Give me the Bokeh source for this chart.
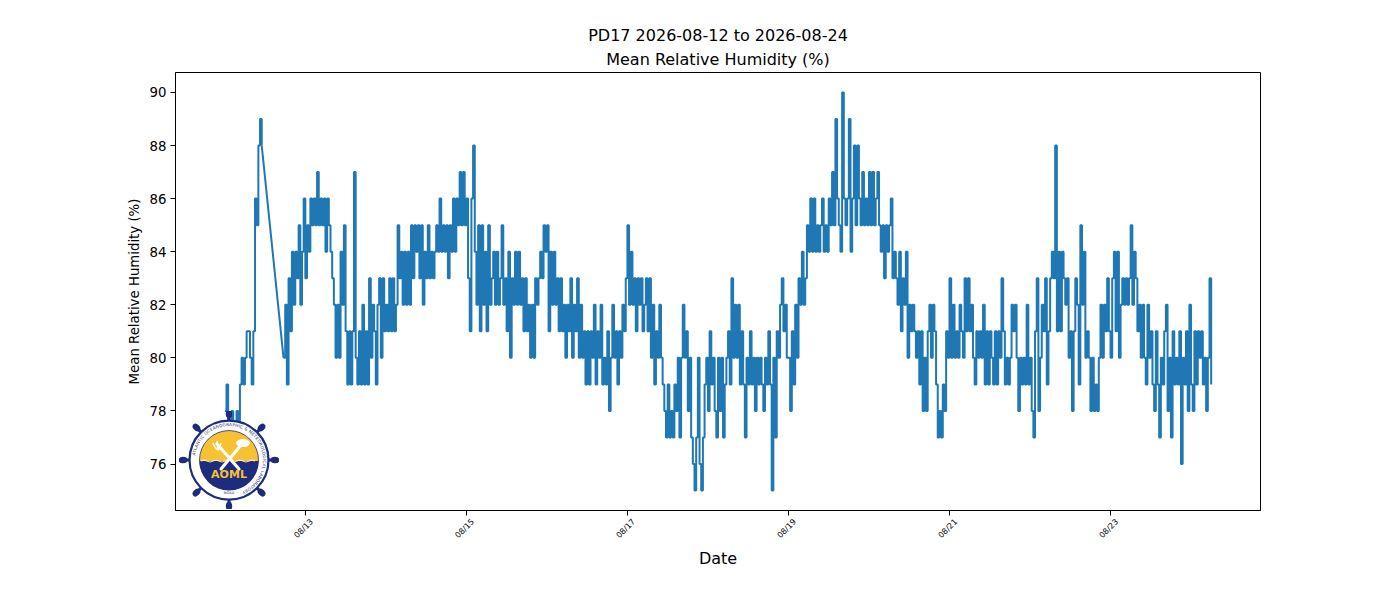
import math
import base64
import pandas as pd
from bokeh.plotting import figure
from bokeh.models import (DatetimeTickFormatter, FixedTicker, Range1d, Title,
                          SingleIntervalTicker, DatetimeAxis)
from bokeh.embed import file_html
from bokeh.resources import INLINE

# ---------------- data ----------------
station = "PD17"
date_from = "2026-08-12"
date_to = "2026-08-24"
variable = "Mean Relative Humidity (%)"
x_label = "Date"
series_start = "2026-08-12 00:00"
sample_step = "30min"
tick_dates = ["2026-08-13", "2026-08-15", "2026-08-17", "2026-08-19", "2026-08-21", "2026-08-23"]
tick_labels = ["08/13", "08/15", "08/17", "08/19", "08/21", "08/23"]

# half-hourly mean relative humidity (%), one list per day (None = no report)
rh_0812 = [78, 79, 77, 77, 78, 77, 77, 78, 77, 79, 80, 79, 80, 81, 81, 80, 79, 81, 86, 85,
           88, 89, 88, None, None, None, None, None, None, None, None, None, None, None, None,
           80, 82, 79, 83, 81, 84, 82, 84, 83, 85, 82, 84, 86]
rh_0813 = [83, 85, 84, 86, 85, 86, 85, 87, 85, 86, 85, 86, 84, 86, 85, 84, 83, 82, 80, 82,
           80, 84, 82, 85, 81, 79, 81, 79, 81, 87, 80, 79, 81, 79, 82, 79, 81, 79, 83, 80,
           82, 81, 79, 82, 83, 80, 83, 81]
rh_0814 = [82, 81, 83, 81, 83, 81, 82, 85, 83, 84, 82, 84, 82, 84, 82, 85, 83, 85, 84, 85,
           83, 85, 82, 84, 83, 85, 83, 84, 83, 84, 85, 84, 86, 84, 85, 84, 85, 83, 85, 84,
           86, 84, 86, 85, 87, 85, 87, 85]
rh_0815 = [86, 83, 81, 86, 88, 84, 82, 85, 81, 85, 82, 84, 81, 85, 82, 83, 84, 82, 84, 82,
           83, 85, 82, 83, 81, 84, 80, 83, 82, 84, 82, 84, 82, 83, 81, 83, 81, 82, 80, 82,
           80, 83, 82, 83, 84, 83, 85, 84]
rh_0816 = [85, 81, 84, 82, 84, 82, 83, 81, 83, 81, 82, 80, 82, 81, 83, 80, 82, 81, 83, 80,
           82, 80, 81, 79, 81, 79, 81, 80, 82, 79, 81, 80, 82, 79, 80, 79, 81, 78, 80, 82,
           80, 81, 79, 81, 80, 82, 81, 83]
rh_0817 = [85, 82, 84, 82, 83, 81, 83, 82, 83, 81, 82, 83, 81, 83, 80, 82, 79, 81, 80, 82,
           80, 79, 78, 77, 79, 77, 78, 77, 79, 78, 80, 77, 80, 82, 80, 81, 78, 80, 77, 76,
           75, 77, 80, 76, 75, 77, 79, 80]
rh_0818 = [78, 81, 79, 80, 78, 77, 80, 78, 80, 77, 79, 80, 81, 79, 83, 80, 82, 80, 82, 79,
           81, 79, 77, 80, 79, 81, 79, 80, 78, 80, 79, 80, 79, 78, 80, 79, 81, 79, 75, 80,
           77, 81, 80, 82, 83, 81, 82, 80]
rh_0819 = [80, 78, 81, 79, 82, 80, 83, 82, 84, 82, 83, 85, 84, 86, 84, 86, 84, 85, 84, 85,
           86, 84, 85, 84, 86, 85, 87, 85, 89, 86, 85, 84, 90, 86, 85, 86, 89, 84, 86, 88,
           85, 88, 86, 85, 87, 85, 86, 85]
rh_0820 = [87, 85, 87, 85, 86, 87, 85, 84, 85, 83, 85, 84, 85, 86, 83, 84, 83, 82, 84, 81,
           83, 82, 84, 80, 82, 81, 82, 81, 80, 81, 79, 81, 78, 80, 78, 81, 82, 80, 82, 81,
           79, 77, 78, 77, 79, 78, 81, 80]
rh_0821 = [83, 80, 82, 80, 81, 80, 82, 81, 80, 83, 81, 83, 81, 82, 80, 79, 81, 80, 81, 80,
           82, 79, 81, 79, 81, 80, 79, 81, 79, 81, 80, 83, 81, 79, 80, 79, 80, 82, 81, 82,
           80, 78, 80, 79, 80, 79, 82, 79]
rh_0822 = [80, 78, 77, 81, 83, 78, 80, 82, 81, 83, 79, 81, 83, 84, 83, 88, 81, 84, 81, 84,
           83, 82, 83, 80, 81, 78, 81, 83, 82, 79, 85, 82, 84, 80, 81, 80, 78, 80, 78, 79,
           78, 80, 82, 80, 82, 81, 83, 81]
rh_0823 = [80, 83, 84, 81, 84, 80, 82, 83, 82, 83, 82, 83, 85, 82, 84, 83, 81, 82, 80, 82,
           80, 79, 82, 80, 81, 79, 78, 81, 79, 77, 80, 79, 81, 82, 78, 80, 77, 81, 79, 80,
           79, 81, 76, 80, 79, 81, 78, 82]
rh_0824 = [79, 78, 81, 79, 81, 80, 81, 79, 80, 78, 80, 83, 79]

daily_lists = [rh_0812, rh_0813, rh_0814, rh_0815, rh_0816, rh_0817, rh_0818,
               rh_0819, rh_0820, rh_0821, rh_0822, rh_0823, rh_0824]

values = []
for day in daily_lists:
    values.extend(day)
times = pd.date_range(series_start, periods=len(values), freq=sample_step)
df = pd.DataFrame({"time": times, "rh": pd.array(values, dtype="float")}).dropna().reset_index(drop=True)

# split into runs of consecutive reports; a gap is bridged by a straight segment
step_td = pd.Timedelta(sample_step)
run_id = (df["time"].diff() > step_td).cumsum()
runs = [g for _, g in df.groupby(run_id)]

# matplotlib-like 5% margins
tmin, tmax = df["time"].min(), df["time"].max()
tspan = tmax - tmin
vmin, vmax = df["rh"].min(), df["rh"].max()
vspan = vmax - vmin
x0, x1 = tmin - 0.05 * tspan, tmax + 0.05 * tspan
x_range = Range1d(x0.to_pydatetime(), x1.to_pydatetime())
y_range = Range1d(vmin - 0.05 * vspan, vmax + 0.05 * vspan)

# ---------------- figure ----------------
FONT = "DejaVu Sans"
BLUE = "#1f77b4"
FRAME_W, FRAME_H = 1085, 438
p = figure(x_axis_type="datetime", title=None,
           frame_width=FRAME_W, frame_height=FRAME_H,
           min_border_left=175, min_border_right=124,
           min_border_top=72, min_border_bottom=74,
           x_range=x_range, y_range=y_range,
           output_backend="svg", toolbar_location=None)
p.background_fill_color = "white"
p.border_fill_color = "white"
p.xgrid.visible = False
p.ygrid.visible = False
p.outline_line_color = "black"
p.outline_line_width = 1
p.outline_line_alpha = 1.0

for g in runs:
    p.step(x=g["time"], y=g["rh"], mode="after", line_color=BLUE, line_width=2)
for a, b in zip(runs[:-1], runs[1:]):
    p.line(x=[a["time"].iloc[-1], b["time"].iloc[0]], y=[a["rh"].iloc[-1], b["rh"].iloc[0]],
           line_color=BLUE, line_width=2)

# ---- AOML logo (decoration) ----
navy = "#1f2b7b"
yellow = "#f6c232"
svg = ['<svg xmlns="http://www.w3.org/2000/svg" width="200" height="196" viewBox="0 0 100 98">',
       '<g transform="translate(0,-1)">']
for k in range(8):
    a = k * math.pi / 4
    c, s = math.cos(a), math.sin(a)
    svg.append('<line x1="%.2f" y1="%.2f" x2="%.2f" y2="%.2f" stroke="%s" stroke-width="3"/>'
               % (50 + 36 * c, 50 + 36 * s, 50 + 45 * c, 50 + 45 * s, navy))
    svg.append('<ellipse cx="%.2f" cy="%.2f" rx="4.4" ry="3.2" fill="%s" transform="rotate(%.1f %.2f %.2f)"/>'
               % (50 + 46 * c, 50 + 46 * s, navy, math.degrees(a), 50 + 46 * c, 50 + 46 * s))
svg.append('<circle cx="50" cy="50" r="39.5" fill="white" stroke="%s" stroke-width="2.2"/>' % navy)
svg.append('<circle cx="50" cy="50" r="29.5" fill="%s" stroke="%s" stroke-width="0.8"/>' % (yellow, navy))
svg.append('<path d="M20.5 51 A29.5 29.5 0 0 0 79.5 51 Z" fill="%s"/>' % navy)
svg.append('<path d="M22 51 q3 -2 6 0 t6 0 t6 0 t6 0 t6 0 t6 0 t6 0 t6 0 t6 0" stroke="white" stroke-width="0.9" fill="none"/>')
svg.append('<path d="M38 34 L60 59 M62 35 L42 59" stroke="white" stroke-width="3.2" stroke-linecap="round"/>')
svg.append('<path d="M34 33 q2 6 6 7 M38 31 l1 7 M42 33 q-1 5 -3 7" stroke="white" stroke-width="1.6" fill="none"/>')
svg.append('<ellipse cx="64" cy="33" rx="7" ry="4" fill="white"/>')
svg.append('<text x="50" y="68" text-anchor="middle" font-family="DejaVu Sans" font-weight="bold" '
           'font-size="11" fill="%s">AOML</text>' % yellow)
svg.append('<defs><path id="ring" d="M 16 50 A 34 34 0 1 1 84 50 A 34 34 0 1 1 16 50"/></defs>')
svg.append('<text font-family="DejaVu Sans" font-size="4.2" fill="%s" letter-spacing="0.2">'
           '<textPath href="#ring" startOffset="2%%">ATLANTIC OCEANOGRAPHIC &amp; METEOROLOGICAL LABORATORY</textPath></text>' % navy)
svg.append('<text x="50" y="84" text-anchor="middle" font-family="DejaVu Sans" font-size="3.6" fill="%s">NOAA</text>' % navy)
svg.append('</g></svg>')
logo_uri = "data:image/svg+xml;base64," + base64.b64encode("".join(svg).encode()).decode()
p.image_url(url=[logo_uri], x=[pd.Timestamp("2026-08-12 01:15").to_pydatetime()], y=[76.15],
            w=100, h=98, w_units="screen", h_units="screen", anchor="center")

# ---- axes ----
tick_ms = [pd.Timestamp(d).value / 1e6 for d in tick_dates]
p.yaxis.ticker = SingleIntervalTicker(interval=2)
p.xaxis.ticker = FixedTicker(ticks=tick_ms)
p.xaxis.formatter = DatetimeTickFormatter(days="%m/%d", months="%m/%d", hours="%m/%d")

for ax in (p.xaxis[0], p.yaxis[0]):
    ax.axis_line_color = "black"
    ax.axis_line_width = 1
    ax.major_tick_line_color = "black"
    ax.major_tick_out = 5
    ax.major_tick_in = 0
    ax.minor_tick_line_color = None
    ax.major_label_text_color = "black"
    ax.major_label_text_font = FONT
    ax.axis_label_text_font = FONT
    ax.axis_label_text_font_style = "normal"
    ax.axis_label_text_color = "black"

p.yaxis.major_label_text_font_size = "13.3px"
p.yaxis.axis_label = variable
p.yaxis.axis_label_text_font_size = "13.3px"
p.yaxis.axis_label_standoff = 5
p.yaxis.major_label_standoff = 4

# main x axis: tick marks only
p.xaxis.major_label_text_color = None
p.xaxis.major_label_standoff = 0

# second, tick-less x axis carries the 45-degree labels; Bokeh right-aligns rotated
# labels on their tick, so its ticks sit a few pixels to the right so that each label
# ends up centred below its real tick (as matplotlib does)
ms_per_px = ((x1 - x0).total_seconds() * 1000.0) / FRAME_W
label_shift_px = 6.5
label_ticks = [t + label_shift_px * ms_per_px for t in tick_ms]
label_axis = DatetimeAxis(ticker=FixedTicker(ticks=label_ticks),
                          formatter=DatetimeTickFormatter(days="%m/%d", months="%m/%d", hours="%m/%d"),
                          major_label_overrides={t: s for t, s in zip(label_ticks, tick_labels)},
                          axis_line_color=None, major_tick_line_color=None,
                          minor_tick_line_color=None, major_tick_out=0, major_tick_in=0,
                          major_label_orientation=math.pi / 4, major_label_standoff=5,
                          major_label_text_font=FONT, major_label_text_font_size="8px",
                          major_label_text_color="black",
                          axis_label=x_label, axis_label_text_font=FONT,
                          axis_label_text_font_size="16px", axis_label_text_font_style="normal",
                          axis_label_text_color="black", axis_label_standoff=3)
p.add_layout(label_axis, "below")

# ---- two-line title ----
p.add_layout(Title(text=variable, align="center", text_font=FONT, text_font_size="16px",
                   text_font_style="normal", text_color="black", standoff=7), "above")
p.add_layout(Title(text=f"{station} {date_from} to {date_to}", align="center", text_font=FONT,
                   text_font_size="16px", text_font_style="normal", text_color="black",
                   standoff=0), "above")

open("out.html", "w").write(file_html(p, INLINE))
